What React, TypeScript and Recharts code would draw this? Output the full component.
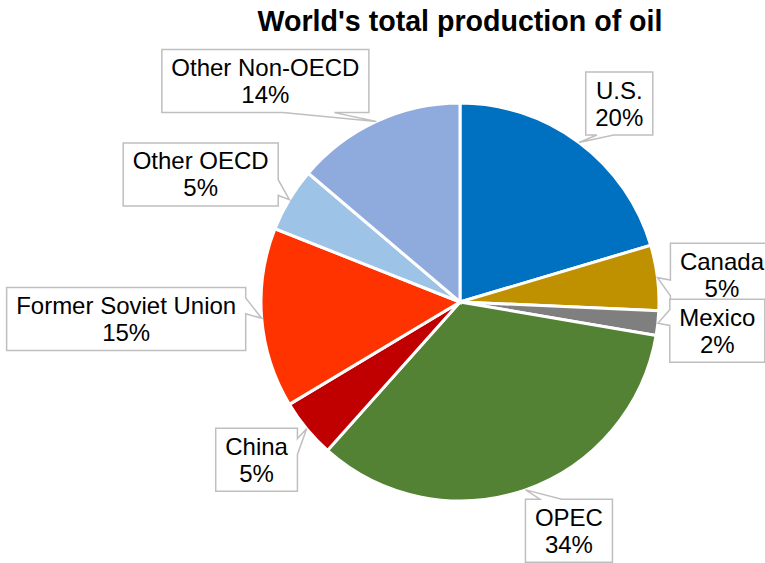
import React from 'react';
import { PieChart, Pie, Cell } from 'recharts';

const categories = ['U.S.', 'Canada', 'Mexico', 'OPEC', 'China', 'Former Soviet Union', 'Other OECD', 'Other Non-OECD'];
const shares = [20.4, 5.3, 2.0, 33.9, 4.8, 14.6, 5.2, 13.8];
const colors = ['#0070C0', '#BF9000', '#7F7F7F', '#548235', '#C00000', '#FF3300', '#9DC3E6', '#8FAADC'];
const title = "World's total production of oil";

// styling: fine position nudges for callouts (px)
const labelNudge: [number, number][] = [
  [9, 3], [0, 5], [-1, 1], [28, -3], [-2, -9], [-3, -10], [-25, 13], [-91, 3],
];

const FONT = '"Liberation Sans", Arial, sans-serif';
const FONT_SIZE = 24;
const LINE_H = 27;
const PAD_X = 9.5;
const BOX_H = 63;
const GAP = 13;

const total = shares.reduce((a, b) => a + b, 0);
const data = categories.map((name, i) => ({ name, value: shares[i] }));

let ctx: CanvasRenderingContext2D | null = null;
function measure(t: string): number {
  if (!ctx) ctx = document.createElement('canvas').getContext('2d');
  if (!ctx) return t.length * FONT_SIZE * 0.55;
  ctx.font = `${FONT_SIZE}px "Liberation Sans"`;
  return ctx.measureText(t).width;
}

function calloutPath(x0: number, y0: number, w: number, h: number, tx: number, ty: number): string {
  const dxPos = tx - (x0 + w / 2);
  const dyPos = ty - (y0 + h / 2);
  const dq = (dxPos * h) / w;
  const dz = Math.abs(dyPos) - Math.abs(dq);
  const x1 = x0 + (w * (dxPos > 0 ? 7 : 2)) / 12;
  const x2 = x0 + (w * (dxPos > 0 ? 10 : 5)) / 12;
  const y1 = y0 + (h * (dyPos > 0 ? 7 : 2)) / 12;
  const y2 = y0 + (h * (dyPos > 0 ? 10 : 5)) / 12;
  const inside = tx >= x0 && tx <= x0 + w && ty >= y0 && ty <= y0 + h;
  const p: string[] = [`M${x0},${y0}`];
  if (!inside && dz > 0 && dyPos < 0) p.push(`L${x1},${y0}`, `L${tx},${ty}`, `L${x2},${y0}`);
  p.push(`L${x0 + w},${y0}`);
  if (!inside && dz <= 0 && dxPos > 0) p.push(`L${x0 + w},${y1}`, `L${tx},${ty}`, `L${x0 + w},${y2}`);
  p.push(`L${x0 + w},${y0 + h}`);
  if (!inside && dz > 0 && dyPos > 0) p.push(`L${x2},${y0 + h}`, `L${tx},${ty}`, `L${x1},${y0 + h}`);
  p.push(`L${x0},${y0 + h}`);
  if (!inside && dz <= 0 && dxPos < 0) p.push(`L${x0},${y2}`, `L${tx},${ty}`, `L${x0},${y1}`);
  p.push('Z');
  return p.join(' ');
}

const RAD = Math.PI / 180;

function renderLabel(props: any) {
  const { cx, cy, midAngle, outerRadius, index } = props;
  const name = categories[index];
  const pct = `${Math.round((shares[index] / total) * 100)}%`;
  const ux = Math.cos(-midAngle * RAD);
  const uy = Math.sin(-midAngle * RAD);
  const textW = Math.max(measure(name), measure(pct));
  const w = textW + 2 * PAD_X;
  const h = BOX_H;
  const ext = Math.min(
    Math.abs(ux) > 1e-6 ? w / 2 / Math.abs(ux) : Infinity,
    Math.abs(uy) > 1e-6 ? h / 2 / Math.abs(uy) : Infinity
  );
  const dist = outerRadius + GAP + ext;
  const [nx, ny] = labelNudge[index] || [0, 0];
  const bcx = cx + dist * ux + nx;
  const bcy = cy + dist * uy + ny;
  const x0 = bcx - w / 2;
  const y0 = bcy - h / 2;
  const tx = cx + outerRadius * ux;
  const ty = cy + outerRadius * uy;
  return (
    <g key={`lbl-${index}`}>
      <path d={calloutPath(x0, y0, w, h, tx, ty)} fill="#FFFFFF" stroke="#BFBFBF" strokeWidth={1.5} />
      <text x={bcx} y={y0 + 18} textAnchor="middle" dominantBaseline="central" fontFamily={FONT} fontSize={FONT_SIZE} fill="#000000">
        {name}
      </text>
      <text x={bcx} y={y0 + 18 + LINE_H} textAnchor="middle" dominantBaseline="central" fontFamily={FONT} fontSize={FONT_SIZE} fill="#000000">
        {pct}
      </text>
    </g>
  );
}

export default function App() {
  return (
    <div style={{ position: 'absolute', left: 0, top: 0, width: 765, height: 563, background: '#FFFFFF', overflow: 'hidden' }}>
      <div
        style={{
          position: 'absolute',
          left: 160,
          width: 600,
          top: 4,
          textAlign: 'center',
          fontFamily: FONT,
          fontWeight: 'bold',
          fontSize: 28.6,
          lineHeight: '34px',
          color: '#000000',
        }}
      >
        {title}
      </div>
      <PieChart width={765} height={563} margin={{ top: 0, right: 0, bottom: 0, left: 0 }}>
        <Pie
          data={data}
          dataKey="value"
          nameKey="name"
          cx={460}
          cy={302}
          outerRadius={199}
          startAngle={90}
          endAngle={-270}
          stroke="#FFFFFF"
          strokeWidth={3}
          isAnimationActive={false}
          labelLine={false}
          label={renderLabel}
        >
          {data.map((d, i) => (
            <Cell key={d.name} fill={colors[i]} />
          ))}
        </Pie>
      </PieChart>
    </div>
  );
}
